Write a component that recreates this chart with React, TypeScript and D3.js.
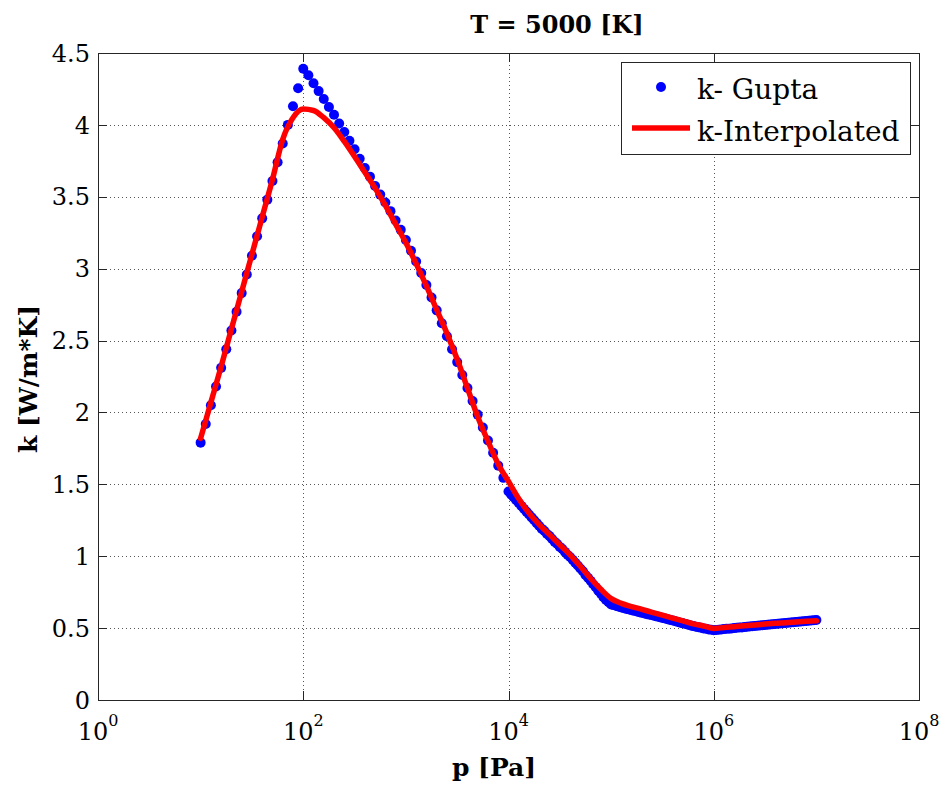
import React from 'react';
import * as d3 from 'd3';

// ---------- data ----------
const xTickExponents = [0, 2, 4, 6, 8];
const yTickValues = [0, 0.5, 1, 1.5, 2, 2.5, 3, 3.5, 4, 4.5];
const yTickLabels = ['0', '0.5', '1', '1.5', '2', '2.5', '3', '3.5', '4', '4.5'];

// k- Gupta, sparse sampling: log10(p) = 1 + i/20 (p = 10 .. 1e4)
const guptaSparseK = [
  1.79, 1.92, 2.05, 2.18, 2.31, 2.44, 2.57, 2.70, 2.83, 2.96,
  3.09, 3.225, 3.35, 3.48, 3.61, 3.74, 3.87, 4.00, 4.13, 4.255,
  4.39, 4.345, 4.29, 4.235, 4.18, 4.125, 4.07, 4.01, 3.95, 3.89,
  3.83, 3.765, 3.70, 3.64, 3.575, 3.515, 3.46, 3.40, 3.335, 3.27,
  3.20, 3.125, 3.05, 2.97, 2.886, 2.80, 2.71, 2.62, 2.53, 2.44,
  2.35, 2.26, 2.17, 2.08, 1.985, 1.895, 1.805, 1.72, 1.63, 1.545,
  1.45,
];

// k- Gupta, dense sampling: log10(p) = 4 + (i+1)/40 (p > 1e4 .. 1e7)
const guptaDenseK = [
  1.43, 1.41, 1.39, 1.37, 1.35, 1.33, 1.31, 1.29, 1.27, 1.25,
  1.23, 1.21, 1.19, 1.175, 1.155, 1.14, 1.12, 1.10, 1.085, 1.065,
  1.05, 1.03, 1.01, 0.995, 0.975, 0.955, 0.935, 0.915, 0.895, 0.87,
  0.85, 0.83, 0.805, 0.785, 0.76, 0.74, 0.715, 0.695, 0.68, 0.665,
  0.66, 0.654, 0.648, 0.643, 0.638, 0.633, 0.629, 0.624, 0.62, 0.615,
  0.611, 0.606, 0.602, 0.597, 0.593, 0.589, 0.585, 0.58, 0.576, 0.571,
  0.567, 0.562, 0.557, 0.553, 0.548, 0.543, 0.538, 0.533, 0.528, 0.523,
  0.518, 0.514, 0.51, 0.506, 0.502, 0.498, 0.495, 0.491, 0.488, 0.485,
  0.487, 0.489, 0.491, 0.493, 0.495, 0.496, 0.498, 0.5, 0.502, 0.504,
  0.505, 0.507, 0.509, 0.511, 0.513, 0.515, 0.516, 0.518, 0.52, 0.522,
  0.523, 0.525, 0.527, 0.529, 0.53, 0.532, 0.534, 0.536, 0.537, 0.539,
  0.541, 0.543, 0.544, 0.546, 0.548, 0.55, 0.551, 0.553, 0.555, 0.557,
];

// k-Interpolated: log10(p) = 1 + i/10 (p = 10 .. 1e7)
const interpK = [
  1.82, 2.07, 2.32, 2.58, 2.84, 3.10, 3.36, 3.62, 3.90, 4.05,
  4.11, 4.10, 4.05, 3.98, 3.885, 3.78, 3.67, 3.56, 3.44, 3.31,
  3.18, 3.035, 2.88, 2.715, 2.55, 2.37, 2.17, 1.97, 1.80, 1.64,
  1.52, 1.40, 1.30, 1.22, 1.15, 1.08, 1.01, 0.93, 0.845, 0.77,
  0.705, 0.672, 0.65, 0.63, 0.61, 0.59, 0.57, 0.55, 0.53, 0.515,
  0.498, 0.504, 0.51, 0.516, 0.522, 0.528, 0.533, 0.538, 0.543, 0.547,
  0.551,
];

const titleText = 'T = 5000 [K]';
const xLabelText = 'p [Pa]';
const yLabelText = 'k [W/m*K]';
const legendLabels = ['k- Gupta', 'k-Interpolated'];

// ---------- layout ----------
const W = 945;
const H = 790;
const L = 98;
const R = 919;
const T = 53;
const B = 700;
const FONT = '"DejaVu Serif", serif';

export default function App() {
  const x = d3.scaleLog().domain([1, 1e8]).range([L, R]);
  const y = d3.scaleLinear().domain([0, 4.5]).range([B, T]);

  const gupta: [number, number][] = [
    ...guptaSparseK.map((k, i) => [Math.pow(10, 1 + i / 20), k] as [number, number]),
    ...guptaDenseK.map((k, i) => [Math.pow(10, 4 + (i + 1) / 40), k] as [number, number]),
  ];
  const interp: [number, number][] = interpK.map((k, i) => [Math.pow(10, 1 + i / 10), k]);

  const line = d3
    .line<[number, number]>()
    .x((d) => x(d[0]))
    .y((d) => y(d[1]))
    .curve(d3.curveMonotoneX);

  const axisColor = '#262626';
  const gridColor = '#555';
  const tickLen = 9;

  return (
    <svg
      width={W}
      height={H}
      viewBox={`0 0 ${W} ${H}`}
      style={{ position: 'absolute', left: 0, top: 0, display: 'block', background: '#fff' }}
    >
      <rect x={0} y={0} width={W} height={H} fill="#fff" />
      {/* grid */}
      <g stroke={gridColor} strokeWidth={1} strokeDasharray="1,3" shapeRendering="crispEdges">
        {xTickExponents
          .filter((e) => e > 0 && e < 8)
          .map((e) => (
            <line key={'gx' + e} x1={Math.round(x(Math.pow(10, e))) + 0.5} x2={Math.round(x(Math.pow(10, e))) + 0.5} y1={T} y2={B} />
          ))}
        {yTickValues
          .filter((v) => v > 0 && v < 4.5)
          .map((v) => (
            <line key={'gy' + v} x1={L} x2={R} y1={Math.round(y(v)) + 0.5} y2={Math.round(y(v)) + 0.5} />
          ))}
      </g>

      {/* Gupta dots */}
      <g fill="#0000ff">
        {gupta.map((d, i) => (
          <circle key={i} cx={x(d[0])} cy={y(d[1])} r={5} />
        ))}
      </g>

      {/* interpolated line */}
      <path d={line(interp) || ''} fill="none" stroke="#ff0000" strokeWidth={5.5} strokeLinejoin="round" strokeLinecap="round" />

      {/* axes box */}
      <g stroke={axisColor} strokeWidth={1} fill="none" shapeRendering="crispEdges">
        <rect x={L + 0.5} y={T + 0.5} width={R - L} height={B - T} />
        {xTickExponents.map((e) => {
          const px = Math.round(x(Math.pow(10, e))) + 0.5;
          return (
            <g key={'tx' + e}>
              <line x1={px} x2={px} y1={B} y2={B - tickLen} />
              <line x1={px} x2={px} y1={T} y2={T + tickLen} />
            </g>
          );
        })}
        {yTickValues.map((v) => {
          const py = Math.round(y(v)) + 0.5;
          return (
            <g key={'ty' + v}>
              <line x1={L} x2={L + tickLen} y1={py} y2={py} />
              <line x1={R} x2={R - tickLen} y1={py} y2={py} />
            </g>
          );
        })}
      </g>

      {/* tick labels */}
      <g fontFamily={FONT} fontSize={24} fill="#000">
        {yTickValues.map((v, i) => (
          <text key={'ly' + v} x={L - 8} y={y(v)} dy="0.36em" textAnchor="end">
            {yTickLabels[i]}
          </text>
        ))}
        {xTickExponents.map((e) => (
          <text key={'lx' + e} x={x(Math.pow(10, e))} y={740} textAnchor="middle">
            <tspan>10</tspan>
            <tspan fontSize={16} dy={-14}>{e}</tspan>
          </text>
        ))}
      </g>

      {/* title and axis labels */}
      <text x={557} y={33} textAnchor="middle" fontFamily={FONT} fontWeight="bold" fontSize={24}>
        {titleText}
      </text>
      <text x={494} y={776} textAnchor="middle" fontFamily={FONT} fontWeight="bold" fontSize={25}>
        {xLabelText}
      </text>
      <text transform="translate(37,379) rotate(-90)" textAnchor="middle" fontFamily={FONT} fontWeight="bold" fontSize={25}>
        {yLabelText}
      </text>

      {/* legend */}
      <g>
        <rect x={621.5} y={62.5} width={289} height={92} fill="#fff" stroke={axisColor} strokeWidth={1} shapeRendering="crispEdges" />
        <circle cx={661} cy={87} r={5} fill="#0000ff" />
        <line x1={632} x2={690} y1={128} y2={128} stroke="#ff0000" strokeWidth={5.5} />
        <text x={697} y={99} fontFamily={FONT} fontSize={28}>
          {legendLabels[0]}
        </text>
        <text x={697} y={141} fontFamily={FONT} fontSize={28}>
          {legendLabels[1]}
        </text>
      </g>
    </svg>
  );
}
